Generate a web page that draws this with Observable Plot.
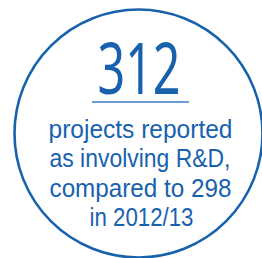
<!DOCTYPE html>
<html>
<head>
<meta charset="utf-8">
<script src="https://cdn.jsdelivr.net/npm/d3@7"></script>
<script src="https://cdn.jsdelivr.net/npm/@observablehq/plot@0.6"></script>
<style>
  html, body { margin: 0; padding: 0; background: #fff; }
  #chart svg { display: block; }
</style>
</head>
<body>
<div id="chart"></div>
<script>
// ---- data ----
const headline = ["312"];
const captionLines = ["projects reported", "as involving R&D,", "compared to 298", "in 2012/13"];

// ---- layout (pixels) ----
const W = 262, H = 258;
const blue = "#1862ad";
const circle = {cx: 138, cy: 133, r: 124};
const headlineLayout = {x: 138.5, baseline: 93, size: 71, width: 83};
const underline = {x1: 92, x2: 189, y: 101.5};
const lineLayout = {
  x: [140, 139.5, 140, 141],
  baseline: [137, 166.5, 196, 225.5],
  width: [184, 181, 182, 104],
  size: 25
};

const headRows = headline.map(t => ({t, x: headlineLayout.x, y: headlineLayout.baseline, w: headlineLayout.width}));
const lineRows = captionLines.map((t, i) => ({t, x: lineLayout.x[i], y: lineLayout.baseline[i], w: lineLayout.width[i]}));

const chart = Plot.plot({
  width: W,
  height: H,
  margin: 0,
  x: {domain: [0, W], range: [0, W], axis: null},
  y: {domain: [0, H], range: [0, H], axis: null},
  style: {background: "#fff", fontFamily: "'Noto Sans', sans-serif"},
  marks: [
    Plot.dot([circle], {x: "cx", y: "cy", r: circle.r, stroke: blue, strokeWidth: 2.6, fill: "none"}),
    Plot.ruleY([underline], {y: "y", x1: "x1", x2: "x2", stroke: "#3a7dc0", strokeWidth: 1.6}),
    Plot.text(headRows, {x: "x", y: "y", text: "t", fontSize: headlineLayout.size, fontWeight: 400, fill: blue, lineAnchor: "bottom", textAnchor: "middle", className: "head"}),
    Plot.text(lineRows, {x: "x", y: "y", text: "t", fontSize: lineLayout.size, fontFamily: "'Liberation Sans', Arial, sans-serif", fill: blue, lineAnchor: "bottom", textAnchor: "middle", className: "cap"})
  ]
});

// Fit text widths to the reference measurements
d3.select(chart).selectAll("g.head text").each(function(_, i) {
  this.setAttribute("textLength", headRows[i].w);
  this.setAttribute("lengthAdjust", "spacingAndGlyphs");
});
d3.select(chart).selectAll("g.cap text").each(function(_, i) {
  this.setAttribute("textLength", lineRows[i].w);
  this.setAttribute("lengthAdjust", "spacingAndGlyphs");
});

document.getElementById("chart").appendChild(chart);
</script>
</body>
</html>
